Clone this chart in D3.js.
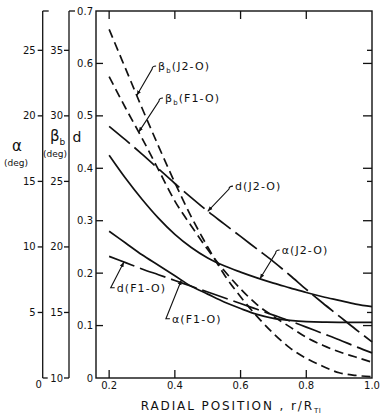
<!DOCTYPE html>
<html><head><meta charset="utf-8">
<script src="https://cdn.jsdelivr.net/npm/d3@7"></script>
<style>
body{margin:0;background:#fff}
svg{display:block}
text{font-family:"DejaVu Sans",sans-serif;fill:#111}
</style>
</head><body>
<svg id="c" width="386" height="417"></svg>
<script>
// ---- data ----
const radialPos = [0.2,0.25,0.3,0.35,0.4,0.45,0.5,0.55,0.6,0.65,0.7,0.75,0.8,0.85,0.9,0.95,1.0];
// beta_b in degrees
const betaJ2O = [36.6,33.6,30.6,27.7,24.9,22.3,20.0,17.9,16.2,14.7,13.4,12.3,11.5,10.9,10.4,10.2,10.1];
const betaF1O = [33.0,30.6,28.3,25.9,23.5,21.6,19.8,18.2,16.8,15.6,14.7,13.9,13.1,12.5,12.0,11.6,11.2];
// alpha in degrees
const alphaJ2O = [17.0,15.24,13.64,12.2,10.96,9.96,9.16,8.56,8.08,7.64,7.24,6.88,6.52,6.2,5.92,5.64,5.44];
const alphaF1O = [11.2,10.3,9.4,8.6,7.8,7.0,6.4,5.8,5.3,4.85,4.55,4.4,4.3,4.26,4.25,4.25,4.25];
// d (dimensionless)
const dJ2O = [0.48,0.454,0.427,0.399,0.371,0.344,0.318,0.294,0.27,0.246,0.222,0.196,0.169,0.143,0.118,0.093,0.069];
const dF1O = [0.232,0.22,0.208,0.197,0.186,0.175,0.164,0.153,0.142,0.131,0.12,0.109,0.097,0.085,0.073,0.06,0.048];

const xTicks = [0.2,0.4,0.6,0.8,1.0];
const dTicks = [0,0.1,0.2,0.3,0.4,0.5,0.6,0.7];
const alphaTicks = [5,10,15,20,25];
const betaTicks = [15,20,25,30,35];

(function(){
// ---- scales ----
const svg = d3.select("#c");
const pL = 96, pR = 372, pT = 11, pB = 378;
const x = d3.scaleLinear().domain([0.16,1.0]).range([pL,pR]);
const yD = d3.scaleLinear().domain([0,0.7]).range([pB,pT]);
const yA = d3.scaleLinear().domain([0,28]).range([pB,pT]);
const yB = d3.scaleLinear().domain([10,38]).range([pB,pT]);
const axA = 42.7, axB = 69;

const g = svg.append("g").attr("stroke","#111").attr("fill","none");

// frame
g.append("rect").attr("x",pL).attr("y",pT).attr("width",pR-pL).attr("height",pB-pT).attr("stroke-width",1.4);

// x ticks bottom (inward) & top (inward)
xTicks.filter(v=>v<1).forEach(v=>{
  g.append("line").attr("x1",x(v)).attr("x2",x(v)).attr("y1",pB).attr("y2",pB-8).attr("stroke-width",1.3);
  g.append("line").attr("x1",x(v)).attr("x2",x(v)).attr("y1",pT).attr("y2",pT+8).attr("stroke-width",1.3);
});
xTicks.forEach(v=>{
  svg.append("text").attr("x",x(v)).attr("y",389).attr("text-anchor","middle").attr("font-size",10).text(v.toFixed(1));
});

// d axis (left frame), inward ticks
dTicks.forEach(v=>{
  if(v>0 && v<0.7) g.append("line").attr("x1",pL).attr("x2",pL+7).attr("y1",yD(v)).attr("y2",yD(v)).attr("stroke-width",1.3);
  svg.append("text").attr("x",pL-3).attr("y",yD(v)).attr("dy","0.35em").attr("text-anchor","end").attr("font-size",10)
    .text(v===0?"0":v.toFixed(1));
});
// right frame: long ticks at d, short ticks at alpha
dTicks.filter(v=>v>0&&v<0.7).forEach(v=>{
  g.append("line").attr("x1",pR).attr("x2",pR-9).attr("y1",yD(v)).attr("y2",yD(v)).attr("stroke-width",1.3);
});
alphaTicks.filter(v=>v!==20).forEach(v=>{
  g.append("line").attr("x1",pR).attr("x2",pR-5).attr("y1",yA(v)).attr("y2",yA(v)).attr("stroke-width",1.3);
});

// alpha axis
g.append("line").attr("x1",axA).attr("x2",axA).attr("y1",pT).attr("y2",pB).attr("stroke-width",1.3);
g.append("line").attr("x1",axA).attr("x2",axA+6).attr("y1",pT).attr("y2",pT).attr("stroke-width",1.3);
g.append("line").attr("x1",axA).attr("x2",axA+5).attr("y1",pB).attr("y2",pB).attr("stroke-width",1.3);
alphaTicks.forEach(v=>{
  g.append("line").attr("x1",axA-5).attr("x2",axA).attr("y1",yA(v)).attr("y2",yA(v)).attr("stroke-width",1.3);
  svg.append("text").attr("x",axA-7).attr("y",yA(v)).attr("dy","0.35em").attr("text-anchor","end").attr("font-size",10).text(v);
});
svg.append("text").attr("x",axA-4).attr("y",yA(0)+6).attr("dy","0.35em").attr("text-anchor","middle").attr("font-size",10).text("0");

// beta axis
g.append("line").attr("x1",axB).attr("x2",axB).attr("y1",pT).attr("y2",pB).attr("stroke-width",1.3);
g.append("line").attr("x1",axB).attr("x2",axB+6).attr("y1",pT).attr("y2",pT).attr("stroke-width",1.3);
betaTicks.concat([10]).forEach(v=>{
  g.append("line").attr("x1",axB-5).attr("x2",axB).attr("y1",yB(v)).attr("y2",yB(v)).attr("stroke-width",1.3);
  svg.append("text").attr("x",axB-6).attr("y",yB(v)).attr("dy","0.35em").attr("text-anchor","end").attr("font-size",10).text(v);
});

// axis titles
svg.append("text").attr("x",17).attr("y",146).attr("dy","0.35em").attr("text-anchor","middle").attr("font-size",15).text("α");
svg.append("text").attr("x",16).attr("y",163).attr("dy","0.35em").attr("text-anchor","middle").attr("font-size",9).text("(deg)");
const bt = svg.append("text").attr("x",50).attr("y",136).attr("dy","0.35em").attr("font-size",15);
bt.append("tspan").text("β");
bt.append("tspan").attr("font-size",9).attr("dy",4).text("b");
svg.append("text").attr("x",55).attr("y",154).attr("dy","0.35em").attr("text-anchor","middle").attr("font-size",9).text("(deg)");
svg.append("text").attr("x",77).attr("y",137).attr("dy","0.35em").attr("text-anchor","middle").attr("font-size",14).text("d");

const xt = svg.append("text").attr("x",231).attr("y",410).attr("text-anchor","middle").attr("font-size",12).attr("letter-spacing",1.9);
xt.append("tspan").text("RADIAL POSITION , r/R");
xt.append("tspan").attr("font-size",7).attr("dy",3).attr("letter-spacing",0.5).text("TI");

// ---- curves ----
const series = [
  {name:"betaJ2O", vals:betaJ2O, y:yB, dash:"9,5"},
  {name:"betaF1O", vals:betaF1O, y:yB, dash:"9,5"},
  {name:"alphaJ2O", vals:alphaJ2O, y:yA, dash:null},
  {name:"alphaF1O", vals:alphaF1O, y:yA, dash:null},
  {name:"dJ2O", vals:dJ2O, y:yD, dash:"27,6"},
  {name:"dF1O", vals:dF1O, y:yD, dash:"27,6"}
];
series.forEach(s=>{
  const line = d3.line().x((d,i)=>x(radialPos[i])).y(d=>s.y(d)).curve(d3.curveMonotoneX);
  g.append("path").attr("d",line(s.vals)).attr("stroke-width",1.7).attr("stroke-dasharray",s.dash);
});

// ---- annotations ----
svg.append("defs").append("marker").attr("id","ah").attr("viewBox","0 0 10 10").attr("refX",0).attr("refY",5)
  .attr("markerWidth",5).attr("markerHeight",5).attr("markerUnits","userSpaceOnUse").attr("orient","auto")
  .append("path").attr("d","M0,5 L10,1 L10,9 Z").attr("fill","#111").attr("stroke","none");

function valAt(s, xv){
  const interp = d3.scaleLinear().domain(radialPos).range(s.vals);
  return s.y(interp(xv));
}
const ann = [
  {s:"betaJ2O", tip:0.284, lx:0.349, ld:0.595, main:"β", sub:"b", rest:"(J2-O)"},
  {s:"betaF1O", tip:0.29,  lx:0.370, ld:0.534, main:"β", sub:"b", rest:"(F1-O)"},
  {s:"dJ2O",    tip:0.50,  lx:0.583, ld:0.366, main:"d", sub:"", rest:"(J2-O)"},
  {s:"alphaJ2O",tip:0.659, lx:0.725, ld:0.244, main:"α", sub:"", rest:"(J2-O)"},
  {s:"dF1O",    tip:0.245, lx:0.223, ld:0.172, main:"d", sub:"", rest:"(F1-O)"},
  {s:"alphaF1O",tip:0.42,  lx:0.391, ld:0.113, main:"α", sub:"", rest:"(F1-O)"}
];
ann.forEach(a=>{
  const s = series.find(q=>q.name===a.s);
  const tx = x(a.tip), ty = valAt(s,a.tip);
  const lx = x(a.lx), ly = yD(a.ld);
  const ex = lx-6;
  const p = d3.path();
  p.moveTo(tx,ty);
  p.lineTo(ex, ly + (ty>ly?3:0));
  if(ty>ly){ p.quadraticCurveTo(ex, ly, lx-2, ly); } else { p.lineTo(lx-2, ly); }
  g.append("path").attr("d",p.toString()).attr("stroke-width",1.1).attr("marker-start","url(#ah)");
  const t = svg.append("text").attr("x",lx).attr("y",ly).attr("dy","0.35em").attr("font-size",11).attr("letter-spacing",1.1);
  t.append("tspan").text(a.main);
  if(a.sub){
    t.append("tspan").attr("font-size",7).attr("dy",3).text(a.sub);
    t.append("tspan").attr("dy",-3).text(a.rest);
  } else t.append("tspan").text(a.rest);
});
})();
</script>
</body></html>
